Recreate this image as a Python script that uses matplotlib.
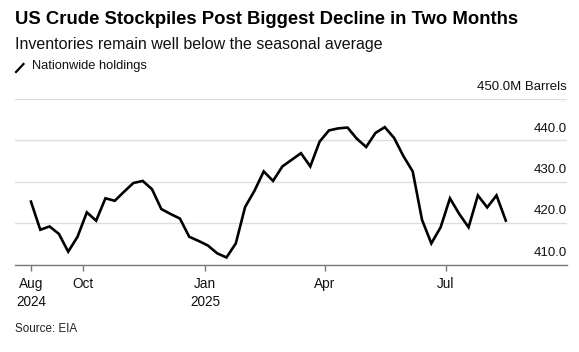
import matplotlib
matplotlib.use("Agg")
import matplotlib.pyplot as plt
from matplotlib.lines import Line2D
import pandas as pd

plt.rcParams['font.family'] = ['Liberation Sans', 'DejaVu Sans']

# weekly stockpiles, million barrels
dates = pd.date_range('2024-08-23', '2025-08-15', freq='7D')
holdings = [425.2, 418.4, 419.2, 417.4, 413.1, 416.7, 422.6, 420.6, 426.0, 425.4,
            427.6, 429.7, 430.2, 428.2, 423.4, 422.2, 421.1, 416.7, 415.7, 414.6,
            412.7, 411.7, 415.1, 423.9, 427.8, 432.5, 430.2, 433.7, 435.3, 436.9,
            433.7, 439.7, 442.4, 442.9, 443.1, 440.4, 438.4, 441.8, 443.2, 440.6,
            436.2, 432.5, 420.8, 415.1, 419.0, 426.0, 422.2, 419.0, 426.7, 423.8,
            426.7, 420.6]

tick_dates = pd.to_datetime(['2024-08-23', '2024-10-01', '2025-01-01', '2025-04-01', '2025-07-01'])
tick_labels = ['Aug\n2024', 'Oct', 'Jan\n2025', 'Apr', 'Jul']
y_ticks = [410, 420, 430, 440, 450]
y_labels = ['410.0', '420.0', '430.0', '440.0', '450.0M Barrels']

W, H = 579, 352
fig = plt.figure(figsize=(W / 100, H / 100), dpi=100)
ax = fig.add_axes([15 / W, (H - 264.5) / H, 552 / W, 165.5 / H])

ax.plot(dates, holdings, color='black', lw=1.9, solid_joinstyle='miter', zorder=3)

ax.set_xlim(pd.Timestamp('2024-08-11'), pd.Timestamp('2025-09-30'))
ax.set_ylim(410, 450)

for s in ['top', 'right', 'left']:
    ax.spines[s].set_visible(False)
ax.spines['bottom'].set_color('#7a7a7a')
ax.spines['bottom'].set_linewidth(1.0)

ax.set_yticks(y_ticks)
ax.set_yticklabels([])
ax.tick_params(axis='y', length=0)
ax.grid(axis='y', color='#dedede', lw=1.0)
for v, lab in zip(y_ticks, y_labels):
    ax.annotate(lab, xy=(1, v), xycoords=('axes fraction', 'data'),
                xytext=(0, 8.5), textcoords='offset points',
                ha='right', va='center', fontsize=9.5, color='#111111')

ax.set_xticks(tick_dates)
ax.set_xticklabels(tick_labels, fontsize=9.8, color='#111111', linespacing=1.4)
for t in ax.get_xticklabels():
    t.set_verticalalignment('top')
ax.tick_params(axis='x', length=4, width=1, color='#7a7a7a', pad=5)

fig.text(15 / W, 1 - 20 / H, 'US Crude Stockpiles Post Biggest Decline in Two Months',
         fontsize=13.3, fontweight='bold', va='center', ha='left', color='black')
fig.text(15 / W, 1 - 44 / H, 'Inventories remain well below the seasonal average',
         fontsize=11.5, va='center', ha='left', color='#111111')
fig.add_artist(Line2D([16 / W, 23.5 / W], [1 - 72 / H, 1 - 64 / H], color='black', lw=1.6,
                      transform=fig.transFigure))
fig.text(32.5 / W, 1 - 66.5 / H, 'Nationwide holdings', fontsize=9.3, va='center', ha='left',
         color='#111111')
fig.text(15 / W, 1 - 329 / H, 'Source: EIA', fontsize=8.4, va='center', ha='left', color='#222222')

fig.savefig('out.png', dpi=100)
